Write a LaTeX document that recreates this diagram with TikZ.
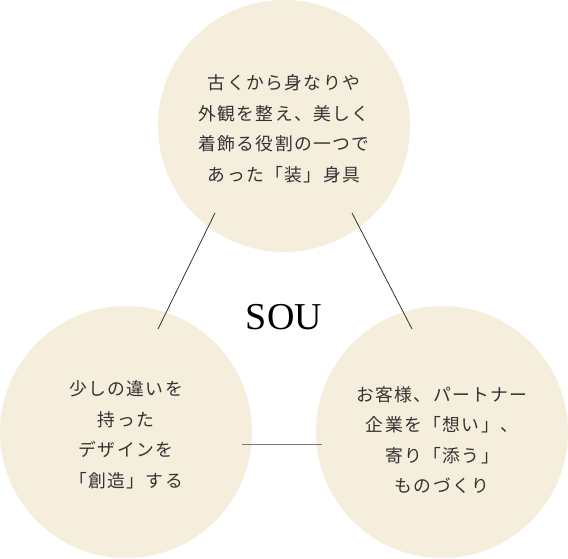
\documentclass[tikz,border=0pt]{standalone}
\usepackage{fontspec}
\usepackage{tikz}
\usetikzlibrary{positioning}
\setmainfont{Liberation Serif}
\newfontfamily\jpfont{Noto Sans CJK JP}[LetterSpace=8]
\definecolor{cream}{HTML}{F6EEDD}
\definecolor{ink}{HTML}{333333}
\definecolor{rulegray}{HTML}{7A7A7A}

\begin{document}
\begin{tikzpicture}[
  x=1pt, y=-1pt,
  disc/.style={circle, fill=cream, minimum size=252pt, inner sep=0pt},
  txt/.style={align=center, text=ink, inner sep=0pt,
    font=\jpfont\fontsize{17.8}{30.5}\selectfont},
  link/.style={draw=ink, line width=0.8pt}
]
\useasboundingbox (0,0) rectangle (568,558);
\node[disc] (top) at (284,126) {};
\node[disc] (left) at (126,432) {};
\node[disc] (right) at (442,432) {};
\node[txt] (topText) at (284,129) {古くから身なりや\\外観を整え、美しく\\着飾る役割の一つで\\あった「装」身具};
\node[txt] (leftText) at (126,435) {少しの違いを\\持った\\デザインを\\「創造」する};
\node[txt] (rightText) at (442,440) {お客様、パートナー\\企業を「想い」、\\寄り「添う」\\ものづくり};
\node[text=black, font=\fontsize{38}{40}\selectfont, inner sep=0pt] (sou) at (284,317) {SOU};
\coordinate (tlA) at (215,213);
\coordinate (tlB) at (158,329);
\coordinate (trA) at (352,213);
\coordinate (trB) at (412,329);
\coordinate (btA) at (242,444);
\coordinate (btB) at (322,444);
\draw[link] (tlA) -- (tlB);
\draw[link] (trA) -- (trB);
\draw[link, draw=rulegray] (btA) -- (btB);
\end{tikzpicture}
\end{document}
